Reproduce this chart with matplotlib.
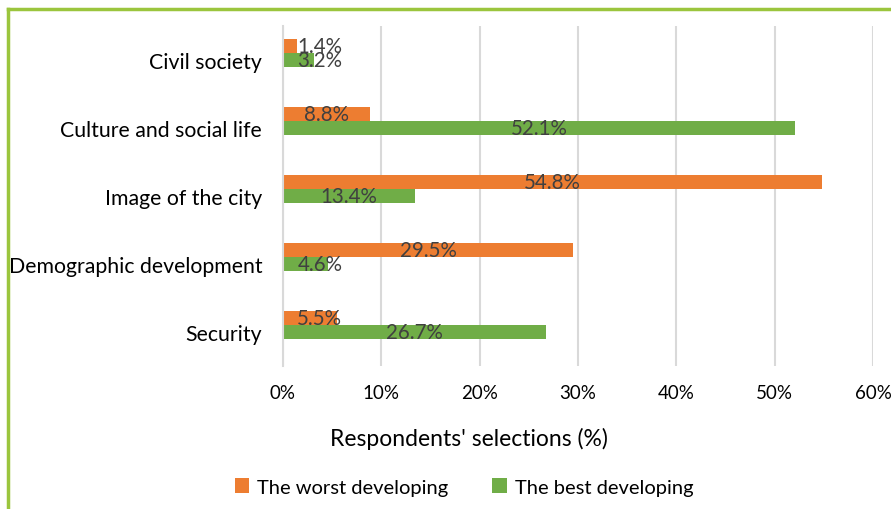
import matplotlib
matplotlib.use("Agg")
import matplotlib.pyplot as plt
from matplotlib.lines import Line2D
from matplotlib.ticker import FuncFormatter

plt.rcParams['font.family'] = ['Lato', 'DejaVu Sans']

categories = ["Civil society", "Culture and social life", "Image of the city",
              "Demographic development", "Security"]
worst = [1.4, 8.8, 54.8, 29.5, 5.5]
best = [3.2, 52.1, 13.4, 4.6, 26.7]
series_names = ["The worst developing", "The best developing"]

W, H = 891, 510
fig = plt.figure(figsize=(W / 100, H / 100), dpi=100)
ax = fig.add_axes([283 / W, 1 - 367 / H, (873 - 283) / W, (367 - 27) / H])

orange = "#ED7D31"
green = "#70AD47"
h = 0.206
pos = list(range(len(categories)))

b1 = ax.barh([p - h for p in pos], worst, height=h, color=orange, label=series_names[0], zorder=2)
b2 = ax.barh(pos, best, height=h, color=green, label=series_names[1], zorder=2)

# data labels, kept clear of the axis for tiny bars
for p, v in zip(pos, worst):
    ax.text(max(v / 2, 3.75), p - h, f"{v}%", ha="center", va="center",
            fontsize=14.8, color="#404040", zorder=3)
for p, v in zip(pos, best):
    ax.text(max(v / 2, 3.75), p, f"{v}%", ha="center", va="center",
            fontsize=14.8, color="#404040", zorder=3)

ax.set_ylim(len(categories) - 0.5, -0.5)
ax.set_xlim(0, 60)
ax.set_xticks(range(0, 61, 10))
ax.xaxis.set_major_formatter(FuncFormatter(lambda x, _: f"{x:.0f}%"))
ax.set_yticks(pos)
ax.set_yticklabels(categories)
ax.tick_params(axis="y", length=0, pad=15, labelsize=15.3, labelcolor="black")
ax.tick_params(axis="x", length=0, pad=13, labelsize=13.5, labelcolor="black")
ax.grid(axis="x", color="#D9D9D9", linewidth=1.5, zorder=0)
for s in ["top", "right", "bottom"]:
    ax.spines[s].set_visible(False)
ax.spines["left"].set_color("#D9D9D9")
ax.spines["left"].set_linewidth(1.5)

fig.text(469 / W, 1 - 439 / H, "Respondents' selections (%)", ha="center", va="center",
         fontsize=16.5, color="black")

fig.legend(handles=[b1, b2], loc="center", bbox_to_anchor=(464 / W, 1 - 488 / H),
           ncol=2, frameon=False, fontsize=14.5, handlelength=0.7, handleheight=0.7,
           columnspacing=2.2, handletextpad=0.4)

# green chart border (cropped on right and bottom)
fig.add_artist(Line2D([8 / W, 8 / W], [0, 1 - 9.5 / H], color="#9BC53D", linewidth=2.5,
                      transform=fig.transFigure))
fig.add_artist(Line2D([8 / W, 1], [1 - 9.5 / H, 1 - 9.5 / H], color="#9BC53D", linewidth=2.5,
                      transform=fig.transFigure))

fig.savefig("out.png", dpi=100)
